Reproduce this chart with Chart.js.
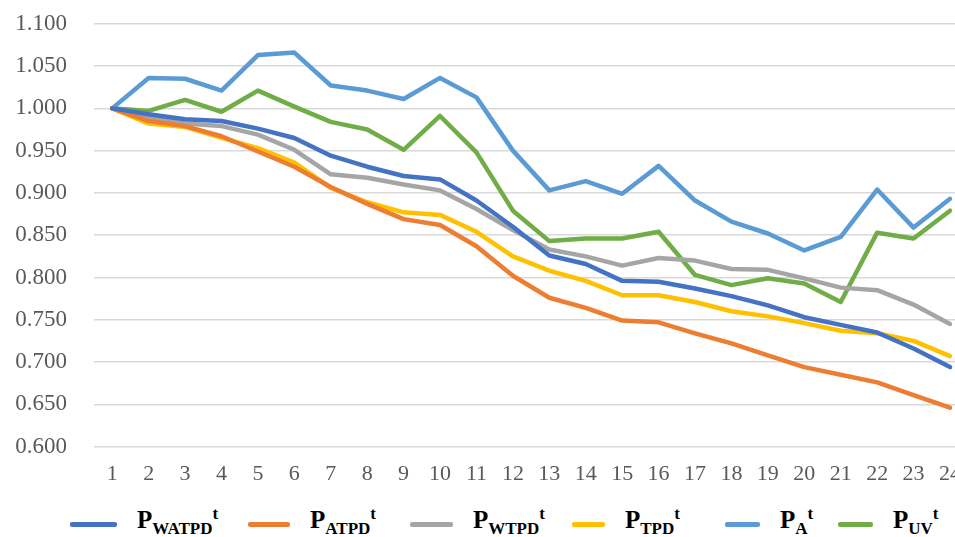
<!DOCTYPE html>
<html>
<head>
<meta charset="utf-8">
<script src="https://cdn.jsdelivr.net/npm/chart.js@4.4.1/dist/chart.umd.min.js"></script>
<style>
  html, body { margin: 0; padding: 0; background: #fff; overflow: hidden; }
  #wrap { position: relative; width: 955px; height: 537px; overflow: hidden; }
  #box { position: absolute; left: 0; top: -17px; width: 975px; height: 518px; }
  #legend { position: absolute; left: 0; top: 505px; width: 955px; height: 32px;
            font-family: "Liberation Serif", "Times New Roman", serif; font-weight: bold; color: #000; }
  .item { position: absolute; top: 0; height: 32px; display: flex; align-items: center; }
  .swatch { display: inline-block; height: 5px; border-radius: 2px; margin-right: 20px; position: relative; top: 3px; }
  .lab { font-size: 25px; line-height: 1; white-space: nowrap; }
  .lab sub { font-size: 17px; vertical-align: -6px; }
  .lab sup { font-size: 17px; vertical-align: 9px; }
</style>
</head>
<body>
<div id="wrap">
  <div id="box"><canvas id="c"></canvas></div>
  <div id="legend"></div>
</div>
<script>
// Periods 1..24
const periods = ['1','2','3','4','5','6','7','8','9','10','11','12','13','14','15','16','17','18','19','20','21','22','23','24'];

const pWATPD = [1.000,0.993,0.987,0.985,0.976,0.965,0.944,0.931,0.920,0.916,0.891,0.860,0.826,0.816,0.796,0.795,0.787,0.778,0.767,0.753,0.744,0.735,0.716,0.694];
const pATPD  = [1.000,0.985,0.979,0.967,0.949,0.931,0.907,0.887,0.869,0.862,0.837,0.802,0.776,0.764,0.749,0.747,0.734,0.722,0.708,0.694,0.685,0.676,0.661,0.646];
const pWTPD  = [1.000,0.990,0.982,0.979,0.969,0.951,0.922,0.918,0.910,0.903,0.881,0.856,0.833,0.825,0.814,0.823,0.820,0.810,0.809,0.799,0.788,0.785,0.768,0.745];
const pTPD   = [1.000,0.982,0.978,0.965,0.953,0.936,0.906,0.889,0.877,0.874,0.854,0.825,0.808,0.796,0.779,0.779,0.771,0.760,0.754,0.746,0.737,0.734,0.725,0.707];
const pA     = [1.000,1.036,1.035,1.021,1.063,1.066,1.027,1.021,1.011,1.036,1.013,0.950,0.903,0.914,0.899,0.932,0.891,0.866,0.852,0.832,0.848,0.904,0.859,0.893];
const pUV    = [1.000,0.997,1.010,0.996,1.021,1.002,0.984,0.975,0.951,0.991,0.948,0.879,0.843,0.846,0.846,0.854,0.803,0.791,0.799,0.793,0.771,0.853,0.846,0.879];

const yTicks = [0.600,0.650,0.700,0.750,0.800,0.850,0.900,0.950,1.000,1.050,1.100];

// series: [base, subscript, values, colour]
const series = [
  ['P','WATPD', pWATPD, '#4472C4'],
  ['P','ATPD',  pATPD,  '#ED7D31'],
  ['P','WTPD',  pWTPD,  '#A5A5A5'],
  ['P','TPD',   pTPD,   '#FFC000'],
  ['P','A',     pA,     '#5B9BD5'],
  ['P','UV',    pUV,    '#70AD47']
];

const datasets = series.map(s => ({
  label: s[0] + s[1] + 't',
  data: s[2],
  borderColor: s[3],
  backgroundColor: s[3],
  borderWidth: 4.5,
  pointRadius: 0,
  pointHoverRadius: 0,
  tension: 0,
  fill: false,
  borderCapStyle: 'round',
  borderJoinStyle: 'round'
}));

const serif = '"Liberation Serif", "Times New Roman", serif';

new Chart(document.getElementById('c'), {
  type: 'line',
  data: { labels: periods, datasets: datasets },
  options: {
    responsive: true,
    maintainAspectRatio: false,
    animation: false,
    layout: { padding: { top: 12, right: 0, bottom: 0, left: 0 } },
    plugins: { legend: { display: false }, tooltip: { enabled: false } },
    scales: {
      x: {
        offset: true,
        grid: { display: false, drawTicks: false },
        border: { display: false },
        ticks: { color: '#595959', font: { family: serif, size: 22 }, padding: 14, maxRotation: 0, autoSkip: false }
      },
      y: {
        min: 0.6, max: 1.1,
        afterBuildTicks: axis => { axis.ticks = yTicks.map(v => ({ value: v })); },
        afterFit: axis => { axis.width = 94; },
        grid: { color: '#D9D9D9', lineWidth: 1.5, drawTicks: false },
        border: { display: false },
        ticks: { color: '#595959', font: { family: serif, size: 23 }, padding: 27,
                 callback: v => Number(v).toFixed(3) }
      }
    }
  }
});

// legend with subscript/superscript labels
const legendX = [70, 248, 410, 572, 725, 838];
const swatchW = [47, 42, 43, 33, 35, 35];
const legend = document.getElementById('legend');
series.forEach((s, i) => {
  const item = document.createElement('div');
  item.className = 'item';
  item.style.left = legendX[i] + 'px';
  const sw = document.createElement('span');
  sw.className = 'swatch';
  sw.style.width = swatchW[i] + 'px';
  sw.style.background = s[3];
  const lab = document.createElement('span');
  lab.className = 'lab';
  lab.innerHTML = s[0] + '<sub>' + s[1] + '</sub><sup>t</sup>';
  item.appendChild(sw);
  item.appendChild(lab);
  legend.appendChild(item);
});
</script>
</body>
</html>
